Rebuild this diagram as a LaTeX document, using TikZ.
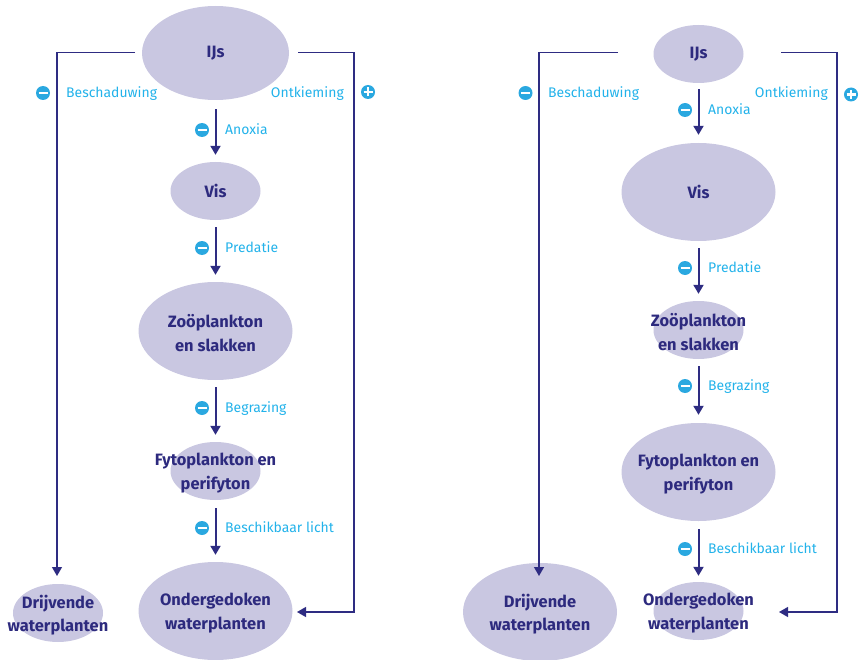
\documentclass[tikz,border=0pt]{standalone}
\usepackage{fontspec}
\setmainfont{Fira Sans}
\usetikzlibrary{shapes.geometric,arrows.meta,calc}
\definecolor{blobc}{HTML}{C9C7E1}
\definecolor{navy}{HTML}{2D2A7E}
\definecolor{linec}{HTML}{2E2C82}
\definecolor{labc}{HTML}{22B2EA}
\definecolor{iconc}{HTML}{2AA8E0}
\begin{document}
\begin{tikzpicture}[x=1bp,y=-1bp,
  big/.style={ellipse,fill=blobc,inner sep=0,minimum width=154bp,minimum height=98bp},
  small/.style={ellipse,fill=blobc,inner sep=0,minimum width=90bp,minimum height=58bp},
  txt/.style={font=\bfseries\fontsize{16.5}{23.5}\selectfont,text=navy,align=center,inner sep=0},
  two/.style={txt,yshift=-2bp},
  lab/.style={font=\fontsize{14}{16}\selectfont,text=labc,inner sep=0,text height=9.8bp,text depth=0bp},
  arr/.style={draw=linec,line width=2bp,-{Triangle[width=10bp,length=9bp]}},
  fb/.style={draw=linec,line width=1.3bp,-{Triangle[width=10bp,length=9bp]}},
  icon/.style={circle,fill=iconc,minimum size=14bp,inner sep=0},
  minus/.style={icon,path picture={\draw[white,line width=2.4bp]
     ($(path picture bounding box.center)+(-4.5,0)$) -- ($(path picture bounding box.center)+(4.5,0)$);}},
  plus/.style={icon,path picture={\draw[white,line width=2.4bp]
     ($(path picture bounding box.center)+(-4.5,0)$) -- ($(path picture bounding box.center)+(4.5,0)$)
     ($(path picture bounding box.center)+(0,-4.5)$) -- ($(path picture bounding box.center)+(0,4.5)$);}}
]
\useasboundingbox (0,0) rectangle (859,660);

% ---------------- left diagram ----------------
\node[big,minimum width=147bp,minimum height=94bp] (Lijs) at (215.5,53) {};
\node[small] (Lvis) at (215.5,191) {};
\node[big] (Lzoo) at (215.5,331) {};
\node[small] (Lfyt) at (215.5,471) {};
\node[big] (Lond) at (215.5,611) {};
\node[small] (Ldri) at (58,613) {};

\node[txt] (LijsT) at (Lijs) {IJs};
\node[txt] (LvisT) at (Lvis) {Vis};
\node[two] (LzooT) at (Lzoo) {Zoöplankton\\en slakken};
\node[two] (LfytT) at (Lfyt) {Fytoplankton en\\perifyton};
\node[two] (LondT) at (Lond) {Ondergedoken\\waterplanten};
\node[two] (LdriT) at (Ldri) {Drijvende\\waterplanten};

\draw[arr] ($(Lijs.south)+(0,9)$) -- ($(Lvis.north)+(0,-7)$);
\draw[arr] ($(Lvis.south)+(0,7)$) -- ($(Lzoo.north)+(0,-7)$);
\draw[arr] ($(Lzoo.south)+(0,7)$) -- ($(Lfyt.north)+(0,-7)$);
\draw[arr] ($(Lfyt.south)+(0,8)$) -- ($(Lond.north)+(0,-7)$);

\node[minus] (Lm1) at (202,130) {};
\node[lab,anchor=west] (Ll1) at (225,130) {Anoxia};
\node[minus] (Lm2) at (202,248) {};
\node[lab,anchor=west] (Ll2) at (225,248) {Predatie};
\node[minus] (Lm3) at (202,408) {};
\node[lab,anchor=west] (Ll3) at (225,408) {Begrazing};
\node[minus] (Lm4) at (202,528) {};
\node[lab,anchor=west] (Ll4) at (225,528) {Beschikbaar licht};

\coordinate (Lfa) at (135,52.7);
\coordinate (Lfb) at (57,576);
\draw[fb] (Lfa) -| (Lfb);
\coordinate (Lfc) at (298,52.7);
\coordinate (Lfd) at (354,612);
\coordinate (Lfe) at (297,612);
\draw[fb] (Lfc) -| (Lfd) -- (Lfe);

\node[minus] (Lm5) at (43,93) {};
\node[lab,anchor=west] (Ll5) at (66,93) {Beschaduwing};
\node[lab,anchor=east] (Ll6) at (344,93) {Ontkieming};
\node[plus] (Lp6) at (368,92) {};

% ---------------- right diagram ----------------
\node[small] (Rijs) at (698.5,54) {};
\node[big] (Rvis) at (698.5,192) {};
\node[small] (Rzoo) at (698.5,330) {};
\node[big] (Rfyt) at (698.5,472) {};
\node[small] (Rond) at (698.5,611) {};
\node[big] (Rdri) at (540,612) {};

\node[txt] (RijsT) at (Rijs) {IJs};
\node[txt] (RvisT) at (Rvis) {Vis};
\node[two] (RzooT) at (Rzoo) {Zoöplankton\\en slakken};
\node[two] (RfytT) at (Rfyt) {Fytoplankton en\\perifyton};
\node[two] (RondT) at (Rond) {Ondergedoken\\waterplanten};
\node[two] (RdriT) at (Rdri) {Drijvende\\waterplanten};

\draw[arr] ($(Rijs.south)+(0,6)$) -- ($(Rvis.north)+(0,-8)$);
\draw[arr] ($(Rvis.south)+(0,7)$) -- ($(Rzoo.north)+(0,-7)$);
\draw[arr] ($(Rzoo.south)+(0,7)$) -- ($(Rfyt.north)+(0,-8)$);
\draw[arr] ($(Rfyt.south)+(0,8)$) -- ($(Rond.north)+(0,-6)$);

\node[minus] (Rm1) at (685,110) {};
\node[lab,anchor=west] (Rl1) at (708,110) {Anoxia};
\node[minus] (Rm2) at (685,268) {};
\node[lab,anchor=west] (Rl2) at (708,268) {Predatie};
\node[minus] (Rm3) at (685,386) {};
\node[lab,anchor=west] (Rl3) at (708,386) {Begrazing};
\node[minus] (Rm4) at (685,549) {};
\node[lab,anchor=west] (Rl4) at (708,549) {Beschikbaar licht};

\coordinate (Rfa) at (618,52.7);
\coordinate (Rfb) at (539,576);
\draw[fb] (Rfa) -| (Rfb);
\coordinate (Rfc) at (781,52.7);
\coordinate (Rfd) at (837,612);
\coordinate (Rfe) at (779,612);
\draw[fb] (Rfc) -| (Rfd) -- (Rfe);

\node[minus] (Rm5) at (525.5,93) {};
\node[lab,anchor=west] (Rl5) at (548,93) {Beschaduwing};
\node[lab,anchor=east] (Rl6) at (828,93) {Ontkieming};
\node[plus] (Rp6) at (851,94.5) {};
\end{tikzpicture}
\end{document}
